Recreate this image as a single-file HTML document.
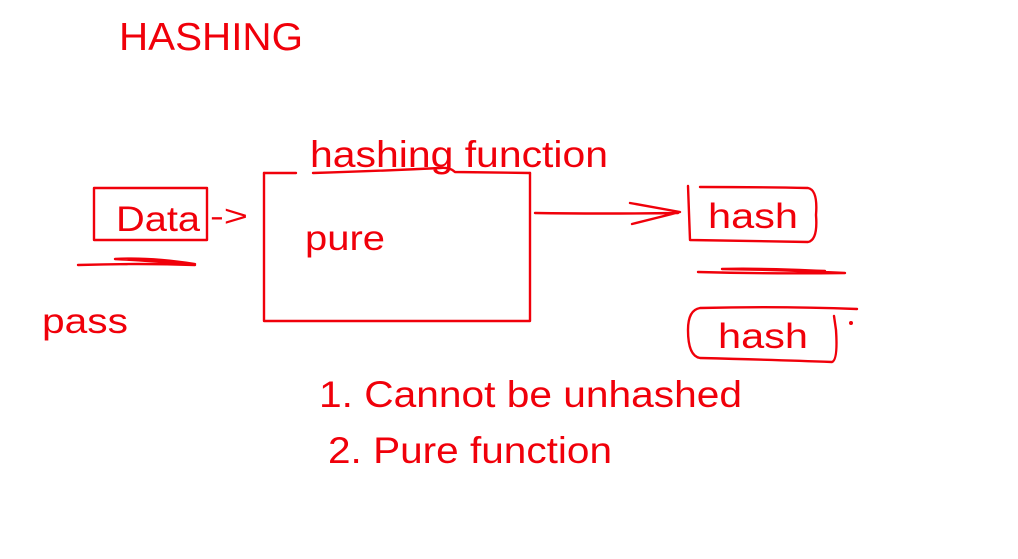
<!DOCTYPE html>
<html><head><meta charset="utf-8"><style>
html,body{margin:0;padding:0;background:#fff;width:1018px;height:559px;overflow:hidden}
svg{display:block}
text{font-family:"Liberation Sans",sans-serif;fill:#f0000a}
</style></head><body>
<svg width="1018" height="559" viewBox="0 0 1018 559">
<g fill="none" stroke="#f0000a" stroke-width="2.4" stroke-linecap="round" stroke-linejoin="round">
<rect x="94" y="188" width="113" height="52"/>
<path d="M78 265 Q140 263 195 265 Q170 262 115 259 Q150 257 195 264"/>
<path d="M264 173 L296 173 M313 173 Q380 171 440 168 Q450 167 455 172 L530 173"/>
<path d="M264 173 L264 321 L530 321 L530 173"/>
<path d="M535 213 Q600 214 678 213 M630 203 L680 212 L632 224"/>
<path d="M688 186 L690 240 Q750 241 808 242 Q818 240 816 215 Q818 190 808 188 Q760 187 700 187"/>
<path d="M698 272 Q770 274 845 273 Q790 270 722 269 Q760 268 825 271"/>
<path d="M857 309 Q780 306 700 308 Q688 310 688 330 Q688 356 700 358 Q780 360 832 362 Q838 360 836 330 L834 316"/>
<circle cx="851" cy="323" r="0.8" fill="#f0000a"/>
</g>
<text x="119" y="50" font-size="39" textLength="184" lengthAdjust="spacingAndGlyphs">HASHING</text>
<text x="310" y="167" font-size="37" textLength="298" lengthAdjust="spacingAndGlyphs">hashing function</text>
<text x="116" y="231" font-size="35" textLength="84" lengthAdjust="spacingAndGlyphs">Data</text>
<text x="210" y="226" font-size="30" textLength="38" lengthAdjust="spacingAndGlyphs">-&gt;</text>
<text x="305" y="250" font-size="35" textLength="80" lengthAdjust="spacingAndGlyphs">pure</text>
<text x="42" y="333" font-size="35" textLength="86" lengthAdjust="spacingAndGlyphs">pass</text>
<text x="708" y="228" font-size="35" textLength="90" lengthAdjust="spacingAndGlyphs">hash</text>
<text x="718" y="348" font-size="35" textLength="90" lengthAdjust="spacingAndGlyphs">hash</text>
<text x="319" y="407" font-size="37" textLength="423" lengthAdjust="spacingAndGlyphs">1. Cannot be unhashed</text>
<text x="328" y="463" font-size="37" textLength="284" lengthAdjust="spacingAndGlyphs">2. Pure function</text>
</svg>
</body></html>
